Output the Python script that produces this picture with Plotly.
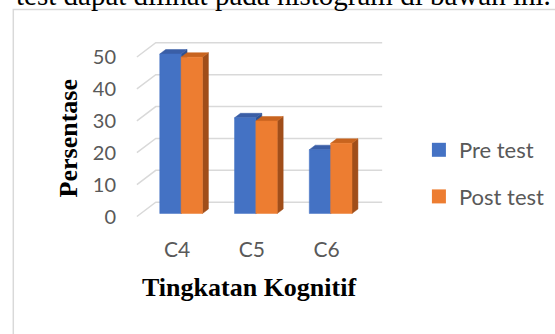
import plotly.graph_objects as go

# ---- data ----
categories = ["C4", "C5", "C6"]
pre_test = [50, 30, 20]
post_test = [49, 29, 22]
y_ticks = [0, 10, 20, 30, 40, 50]
series_names = ["Pre test", "Post test"]
x_title = "Tingkatan Kognitif"
y_title = "Persentase"
caption = "test dapat dilihat pada histogram di bawah ini."

# ---- geometry (pixels) ----
W, H = 555, 334
L, R, T, B = 125, 5, 30, 104
X0, PX = 177.5, 75.3     # pixel of x=0 and px per category unit
Y0, PY = 216.5, 3.19     # pixel of y=0 and px per value unit
plot_w = W - L - R
plot_h = H - T - B

def px2paper_x(p):
    return (p - L) / plot_w

def px2paper_y(p):
    return (H - B - p) / plot_h

def proj(x, y, z):
    """oblique projection: depth z (pixels) goes right and up"""
    return x + z / PX, y + 0.75 * z / PY

GAP, DEPTH, WALL = 4, 6, 19
BW = 21.5 / PX
XL, XR = -0.538, 2.49

BLUE, BLUE_TOP, BLUE_SIDE = "#4472C4", "#3A5EA6", "#2F5191"
ORANGE, ORANGE_TOP, ORANGE_SIDE = "#ED7D31", "#C8641F", "#A04E1A"
GRID = "#D9D9D9"
TXT = "#595959"
FONT = "Lato"

fig = go.Figure()

# gridlines (front-left diagonal + back wall)
gx, gy = [], []
for v in y_ticks:
    for (x, z) in [(XL, 0), (XL, WALL), (XR, WALL)]:
        a, b = proj(x, v, z)
        gx.append(a)
        gy.append(b)
    gx.append(None)
    gy.append(None)
fig.add_trace(go.Scatter(x=gx, y=gy, mode="lines", line=dict(color=GRID, width=1.5),
                         hoverinfo="skip", showlegend=False))


def faces(vals, side):
    front, top, right = ([], []), ([], []), ([], [])

    def add(face, pts):
        for p in pts:
            a, b = proj(*p)
            face[0].append(a)
            face[1].append(b)
        face[0].append(None)
        face[1].append(None)

    for i, v in enumerate(vals):
        x0 = i - BW if side < 0 else i
        x1 = x0 + BW
        z0, z1 = GAP, GAP + DEPTH
        add(front, [(x0, 0, z0), (x1, 0, z0), (x1, v, z0), (x0, v, z0), (x0, 0, z0)])
        add(top, [(x0, v, z0), (x1, v, z0), (x1, v, z1), (x0, v, z1), (x0, v, z0)])
        add(right, [(x1, 0, z0), (x1, 0, z1), (x1, v, z1), (x1, v, z0), (x1, 0, z0)])
    return front, top, right


def poly(face, color):
    fig.add_trace(go.Scatter(x=face[0], y=face[1], mode="lines", fill="toself",
                             fillcolor=color, line=dict(color=color, width=0.5),
                             hoverinfo="skip", showlegend=False))


pf, pt, pr = faces(pre_test, -1)
poly(pr, BLUE_SIDE)
poly(pt, BLUE_TOP)
poly(pf, BLUE)
of, ot, orr = faces(post_test, 1)
poly(orr, ORANGE_SIDE)
poly(ot, ORANGE_TOP)
poly(of, ORANGE)

# legend entries
for name, col, grp in [(series_names[0], BLUE, "a"), (series_names[1], ORANGE, "b")]:
    fig.add_trace(go.Scatter(x=[None], y=[None], mode="markers", name=name, legendgroup=grp,
                             marker=dict(symbol="square", size=14, color=col)))

fig.update_layout(
    width=W, height=H,
    margin=dict(l=L, r=R, t=T, b=B, pad=0),
    paper_bgcolor="white", plot_bgcolor="white",
    showlegend=True,
    legend=dict(x=px2paper_x(421), y=px2paper_y(129), xanchor="left", yanchor="top",
                font=dict(family=FONT, size=22, color=TXT), tracegroupgap=15,
                bgcolor="rgba(0,0,0,0)"),
    xaxis=dict(range=[(L - X0) / PX, (W - R - X0) / PX], tickvals=list(range(len(categories))),
               ticktext=categories, showgrid=False, zeroline=False, showline=False,
               ticks="", tickfont=dict(family=FONT, size=21, color=TXT), ticklabelstandoff=5,
               fixedrange=True),
    yaxis=dict(range=[(Y0 - (H - B)) / PY, (Y0 - T) / PY], tickvals=y_ticks,
               ticktext=[str(v) for v in y_ticks], showgrid=False, zeroline=False,
               showline=False, ticks="", tickfont=dict(family=FONT, size=20, color=TXT),
               ticklabelstandoff=8, fixedrange=True),
    shapes=[dict(type="rect", xref="paper", yref="paper",
                 x0=px2paper_x(12.5), x1=px2paper_x(565), y0=px2paper_y(345), y1=px2paper_y(9.5),
                 line=dict(color=GRID, width=1.5), fillcolor="rgba(0,0,0,0)", layer="below")],
    annotations=[
        dict(text=y_title, xref="paper", yref="paper", x=px2paper_x(68), y=px2paper_y(138),
             textangle=-90, showarrow=False, xanchor="center", yanchor="middle",
             font=dict(family="Liberation Serif", size=26, color="black", weight="bold")),
        dict(text=x_title, xref="paper", yref="paper", x=px2paper_x(250), y=px2paper_y(287),
             showarrow=False, xanchor="center", yanchor="middle",
             font=dict(family="Liberation Serif", size=26, color="black", weight="bold")),
        dict(text=caption, xref="paper", yref="paper", x=px2paper_x(13), y=px2paper_y(13),
             showarrow=False, xanchor="left", yanchor="bottom",
             font=dict(family="Liberation Serif", size=29, color="black")),
    ],
)

fig.write_html("out.html")
